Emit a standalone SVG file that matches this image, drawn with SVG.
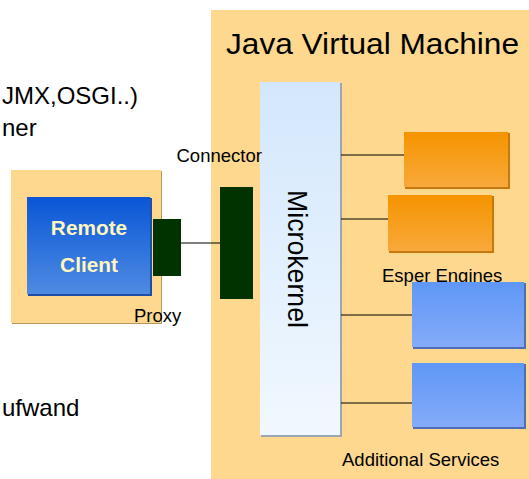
<svg xmlns="http://www.w3.org/2000/svg" width="529" height="479" viewBox="0 0 529 479">
<style>
text{font-family:"Liberation Sans",Arial,sans-serif;fill:#000}
.lbl{font-size:18.5px}
.side{font-size:24px}
.wire{stroke:#000;stroke-width:1.2;fill:none}
.green{fill:#003300}
.cl{font-size:20.8px;font-weight:bold;fill:#FFF6BE}
</style>
<defs>
<linearGradient id="gBlue" x1="0" y1="0" x2="0" y2="1"><stop offset="0" stop-color="#0956D6"/><stop offset="1" stop-color="#4E8BE2"/></linearGradient>
<linearGradient id="gOrange" x1="0" y1="0" x2="0" y2="1"><stop offset="0" stop-color="#F59400"/><stop offset="1" stop-color="#F8A93C"/></linearGradient>
<linearGradient id="gSvc" x1="0" y1="0" x2="0" y2="1"><stop offset="0" stop-color="#5F97F7"/><stop offset="1" stop-color="#84ABF8"/></linearGradient>
<linearGradient id="gKernel" x1="0" y1="0" x2="0" y2="1"><stop offset="0" stop-color="#D3E7FC"/><stop offset="1" stop-color="#F1F8FF"/></linearGradient>
</defs>
<rect width="529" height="479" fill="#fff"/>
<text class="side" x="2" y="104">JMX,OSGI..)</text>
<text class="side" x="2" y="136">ner</text>
<text class="side" x="2" y="416">ufwand</text>
<g id="jvm">
<rect x="211" y="10" width="318" height="469" fill="#FDD88E"/>
<text x="226" y="54" font-size="29" textLength="293" lengthAdjust="spacingAndGlyphs">Java Virtual Machine</text>
</g>
<g id="remote">
<rect x="12" y="171" width="150" height="153" fill="#B8955A"/>
<rect x="11" y="170" width="150" height="153" fill="#FDD88E"/>
</g>
<g id="client">
<rect x="28" y="198" width="124" height="98" fill="#1E4FA8"/>
<rect x="27" y="197" width="123" height="97" fill="url(#gBlue)"/>
<text class="cl" x="89" y="235" text-anchor="middle">Remote</text>
<text class="cl" x="89" y="272" text-anchor="middle">Client</text>
</g>
<g id="kernel">
<rect x="261" y="83" width="81" height="354" fill="#9AA6B4"/>
<rect x="260" y="82" width="80" height="353" fill="url(#gKernel)"/>
<text transform="translate(288,190) rotate(90)" font-size="27" textLength="138" lengthAdjust="spacingAndGlyphs">Microkernel</text>
</g>
<g id="connectors">
<line class="wire" x1="181" y1="243" x2="220" y2="243"/>
<line class="wire" x1="341" y1="155" x2="404" y2="155"/>
<line class="wire" x1="341" y1="219" x2="388" y2="219"/>
<line class="wire" x1="341" y1="315" x2="412" y2="315"/>
<line class="wire" x1="341" y1="403" x2="412" y2="403"/>
</g>
<g id="proxy">
<rect class="green" x="153" y="219" width="28" height="57"/>
<text class="lbl" x="134" y="322">Proxy</text>
</g>
<g id="connector">
<rect class="green" x="220" y="187" width="33" height="112"/>
<text class="lbl" x="176.5" y="162">Connector</text>
</g>
<g id="engine1">
<rect x="405" y="133" width="105" height="56" fill="#C8780C"/>
<rect x="404" y="132" width="104" height="55" fill="url(#gOrange)"/>
</g>
<g id="engine2">
<rect x="389" y="196" width="105" height="57" fill="#C8780C"/>
<rect x="388" y="195" width="104" height="56" fill="url(#gOrange)"/>
<text class="lbl" x="382" y="282">Esper Engines</text>
</g>
<g id="service1">
<rect x="413" y="283" width="113" height="66" fill="#4F6EB6"/>
<rect x="412" y="282" width="112" height="65" fill="url(#gSvc)"/>
</g>
<g id="service2">
<rect x="413" y="364" width="113" height="65" fill="#4F6EB6"/>
<rect x="412" y="363" width="112" height="64" fill="url(#gSvc)"/>
<text class="lbl" x="342" y="466">Additional Services</text>
</g>
</svg>
